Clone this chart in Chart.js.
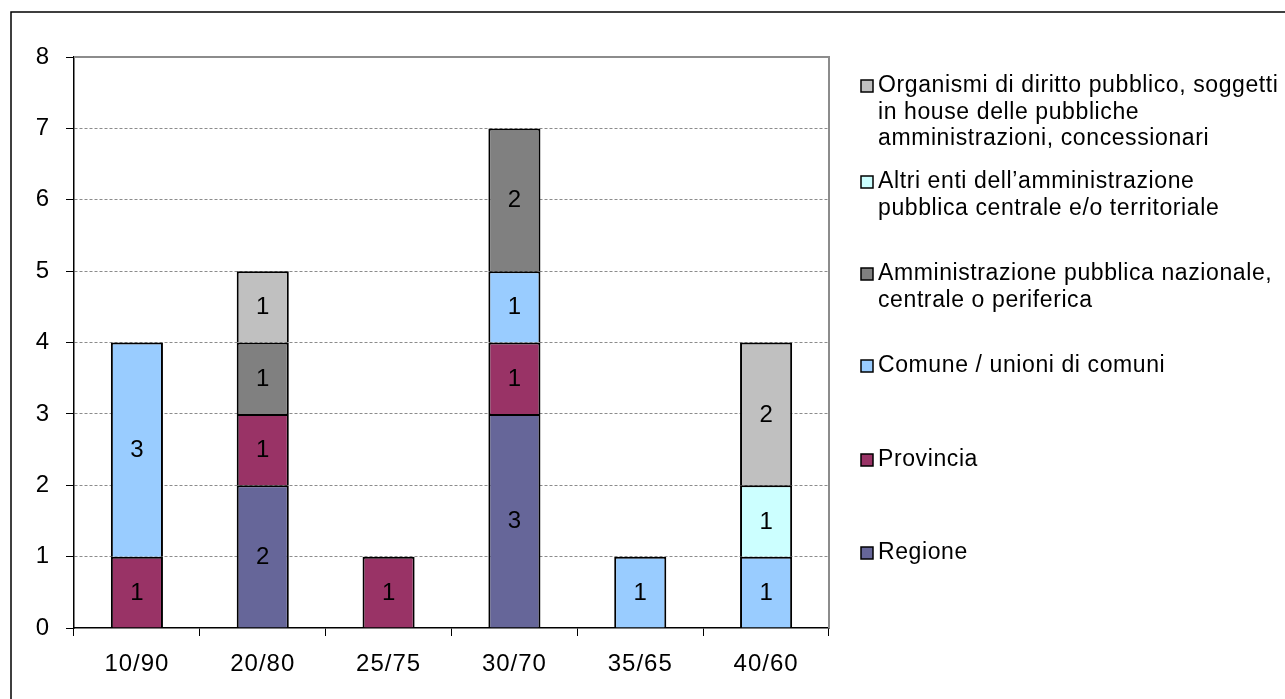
<!DOCTYPE html>
<html>
<head>
<meta charset="utf-8">
<script src="https://cdn.jsdelivr.net/npm/chart.js@4/dist/chart.umd.min.js"></script>
<style>
  html, body { margin: 0; padding: 0; background: #fff; }
  #wrap { position: relative; width: 1285px; height: 699px; }
</style>
</head>
<body>
<div id="wrap"><canvas id="c" width="1285" height="699"></canvas></div>
<script>
// Categories (ratio bands) and counts per type of body, stacked bottom to top
const categories = ['10/90', '20/80', '25/75', '30/70', '35/65', '40/60'];

const regione        = [0, 2, 0, 3, 0, 0];
const provincia      = [1, 1, 1, 1, 0, 0];
const comune         = [3, 0, 0, 1, 1, 1];
const amministraz    = [0, 1, 0, 2, 0, 0];
const altriEnti      = [0, 0, 0, 0, 0, 1];
const organismi      = [0, 1, 0, 0, 0, 2];

const yTicks = [0, 1, 2, 3, 4, 5, 6, 7, 8];

const seriesNames = [
  ['Regione'],
  ['Provincia'],
  ['Comune / unioni di comuni'],
  ['Amministrazione pubblica nazionale,', 'centrale o periferica'],
  ['Altri enti dell\u2019amministrazione', 'pubblica centrale e/o territoriale'],
  ['Organismi di diritto pubblico, soggetti', 'in house delle pubbliche', 'amministrazioni, concessionari']
];
const seriesColors = ['#666699', '#993366', '#99CCFF', '#808080', '#CCFFFF', '#C0C0C0'];
const seriesValues = [regione, provincia, comune, amministraz, altriEnti, organismi];

const FONT = '"Liberation Sans", Arial, sans-serif';
const PLOT_LEFT = 74, PLOT_RIGHT = 829, PLOT_TOP = 57, PLOT_BOTTOM = 628;

const datasets = seriesValues.map((vals, i) => ({
  label: seriesNames[i].join(' '),
  data: vals,
  backgroundColor: seriesColors[i],
  borderColor: '#000000',
  borderWidth: 2,
  borderSkipped: 'start',
  categoryPercentage: 1.0,
  barPercentage: 0.414
}));

// Outer frame, plot frame, value labels and legend
const decorations = {
  id: 'decorations',
  beforeDraw(chart) {
    const ctx = chart.ctx;
    ctx.save();
    ctx.fillStyle = '#fff';
    ctx.fillRect(0, 0, chart.width, chart.height);
    ctx.strokeStyle = '#000';
    ctx.lineWidth = 1.5;
    ctx.beginPath();
    ctx.moveTo(11, chart.height);
    ctx.lineTo(11, 12);
    ctx.lineTo(chart.width, 12);
    ctx.stroke();
    ctx.restore();
    ctx.letterSpacing = '1px';
  },
  beforeDatasetsDraw(chart) {
    const a = chart.chartArea;
    const ctx = chart.ctx;
    ctx.save();
    ctx.strokeStyle = '#8c8c8c';
    ctx.lineWidth = 2;
    ctx.beginPath();
    ctx.moveTo(a.left, a.top);
    ctx.lineTo(a.right, a.top);
    ctx.lineTo(a.right, a.bottom);
    ctx.stroke();
    ctx.restore();
  },
  afterDatasetsDraw(chart) {
    const ctx = chart.ctx;
    ctx.save();
    ctx.letterSpacing = '0px';
    ctx.font = '24px ' + FONT;
    ctx.fillStyle = '#000';
    ctx.textAlign = 'center';
    ctx.textBaseline = 'middle';
    chart.data.datasets.forEach((ds, di) => {
      const meta = chart.getDatasetMeta(di);
      meta.data.forEach((bar, j) => {
        const v = ds.data[j];
        if (!v) return;
        ctx.fillText(String(v), bar.x, (bar.y + bar.base) / 2 + 1);
      });
    });
    ctx.restore();
  },
  afterDraw(chart) {
    // Legend, topmost series first
    const ctx = chart.ctx;
    const itemTops = [86, 182, 274, 366, 460, 553];
    const lineH = 26.5;
    ctx.save();
    ctx.letterSpacing = '0.6px';
    ctx.font = '23px ' + FONT;
    ctx.textAlign = 'left';
    ctx.textBaseline = 'middle';
    const order = [5, 4, 3, 2, 1, 0];
    order.forEach((si, k) => {
      const y0 = itemTops[k];
      ctx.fillStyle = seriesColors[si];
      ctx.fillRect(861, y0 - 6, 12, 12);
      ctx.strokeStyle = '#000';
      ctx.lineWidth = 1.5;
      ctx.strokeRect(861, y0 - 6, 12, 12);
      ctx.fillStyle = '#000';
      seriesNames[si].forEach((line, li) => {
        ctx.fillText(line, 878, y0 + li * lineH);
      });
    });
    ctx.restore();
  }
};

new Chart(document.getElementById('c'), {
  type: 'bar',
  data: { labels: categories, datasets },
  options: {
    responsive: false,
    animation: false,
    devicePixelRatio: 1,
    layout: { padding: { left: 0, top: PLOT_TOP, right: 1285 - PLOT_RIGHT, bottom: 0 } },
    plugins: { legend: { display: false }, tooltip: { enabled: false } },
    scales: {
      x: {
        stacked: true,
        afterFit(scale) { scale.height = 699 - PLOT_BOTTOM; },
        grid: { offset: true, drawOnChartArea: false, drawTicks: true, tickLength: 8, tickColor: '#000', tickWidth: 1 },
        border: { display: true, color: '#000', width: 1.5 },
        ticks: { color: '#000', font: { family: FONT, size: 24 }, padding: 14 }
      },
      y: {
        stacked: true,
        min: 0,
        max: 8,
        afterFit(scale) { scale.width = PLOT_LEFT; },
        afterBuildTicks(scale) { scale.ticks = yTicks.map(v => ({ value: v })); },
        grid: {
          color: ctx => (ctx.tick && (ctx.tick.value === 0 || ctx.tick.value === 8)) ? 'rgba(0,0,0,0)' : '#8c8c8c',
          lineWidth: 1,
          drawTicks: true,
          tickLength: 8,
          tickColor: '#000',
          tickWidth: 1
        },
        border: { display: true, color: '#000', width: 1.5, dash: [3, 2] },
        ticks: { color: '#000', font: { family: FONT, size: 24 }, padding: 16 }
      }
    }
  },
  plugins: [decorations]
});
</script>
</body>
</html>
